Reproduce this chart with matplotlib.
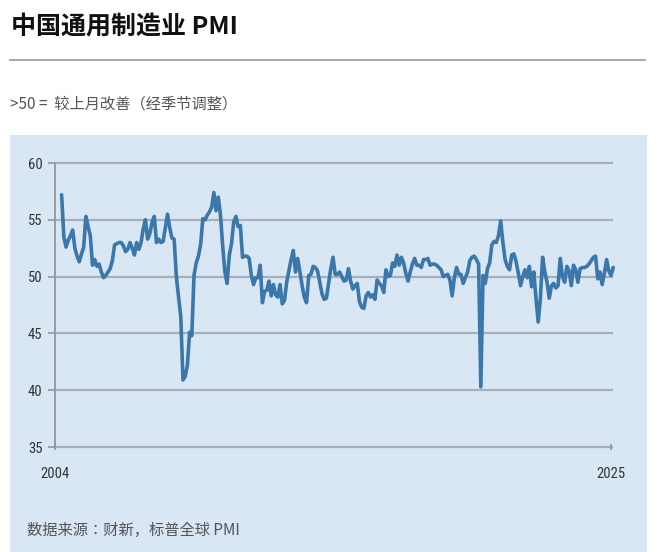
import matplotlib
matplotlib.use("Agg")
import matplotlib.pyplot as plt
from matplotlib import font_manager as fm
from matplotlib.patches import Rectangle
from matplotlib.lines import Line2D

# ---------------- data (monthly, seasonally adjusted) ----------------
start_year = 2004
start_month = 4
pmi_2004 = [57.2, 53.5, 52.6, 53.2, 53.6, 54.1, 52.5, 51.8, 51.3]
pmi_2005 = [52.0, 52.6, 55.3, 54.4, 53.6, 51.0, 51.5, 50.9, 51.1, 50.4, 49.9, 50.1]
pmi_2006 = [50.4, 50.7, 51.4, 52.8, 52.9, 53.0, 53.0, 52.7, 52.2, 52.4, 53.0, 52.5]
pmi_2007 = [51.9, 53.0, 52.4, 53.0, 54.2, 55.0, 53.3, 53.8, 54.8, 55.3, 53.0, 53.3]
pmi_2008 = [53.0, 53.1, 54.3, 55.5, 54.3, 53.4, 53.3, 50.0, 48.2, 46.5, 40.9, 41.2]
pmi_2009 = [42.2, 45.1, 44.8, 50.1, 51.2, 51.8, 52.8, 55.1, 55.0, 55.4, 55.7, 56.1]
pmi_2010 = [57.4, 55.8, 57.0, 55.4, 52.7, 50.4, 49.4, 51.9, 52.9, 54.8, 55.3, 54.4]
pmi_2011 = [54.5, 51.7, 51.8, 51.8, 51.6, 50.1, 49.3, 49.9, 49.9, 51.0, 47.7, 48.7]
pmi_2012 = [48.8, 49.6, 48.3, 49.3, 48.4, 48.2, 49.3, 47.6, 47.9, 49.5, 50.5, 51.5]
pmi_2013 = [52.3, 50.4, 51.6, 50.4, 49.2, 48.2, 47.7, 50.1, 50.2, 50.9, 50.8, 50.5]
pmi_2014 = [49.5, 48.5, 48.0, 48.1, 49.4, 50.7, 51.7, 50.2, 50.2, 50.4, 50.0, 49.6]
pmi_2015 = [49.7, 50.7, 49.6, 48.9, 49.2, 49.4, 47.8, 47.3, 47.2, 48.3, 48.6, 48.2]
pmi_2016 = [48.4, 48.0, 49.7, 49.4, 49.2, 48.6, 50.6, 50.0, 50.1, 51.2, 50.9, 51.9]
pmi_2017 = [51.0, 51.7, 51.2, 50.3, 49.6, 50.4, 51.1, 51.6, 51.0, 51.0, 50.8, 51.5]
pmi_2018 = [51.5, 51.6, 51.0, 51.1, 51.1, 51.0, 50.8, 50.6, 50.0, 50.1, 50.2, 49.7]
pmi_2019 = [48.3, 49.9, 50.8, 50.2, 50.2, 49.4, 49.9, 50.4, 51.4, 51.7, 51.8, 51.5]
pmi_2020 = [51.1, 40.3, 50.1, 49.4, 50.7, 51.2, 52.8, 53.1, 53.0, 53.6, 54.9, 53.0]
pmi_2021 = [51.5, 50.9, 50.6, 51.9, 52.0, 51.3, 50.3, 49.2, 50.0, 50.6, 49.9, 50.9]
pmi_2022 = [49.1, 50.4, 48.1, 46.0, 48.1, 51.7, 50.4, 49.5, 48.1, 49.2, 49.4, 49.0]
pmi_2023 = [49.2, 51.6, 50.0, 49.5, 50.9, 50.5, 49.2, 51.0, 50.6, 49.5, 50.7, 50.8]
pmi_2024 = [50.8, 50.9, 51.1, 51.4, 51.7, 51.8, 49.8, 50.4, 49.3, 50.3, 51.5, 50.5]
pmi_2025 = [50.1, 50.8]

y_ticks = [35, 40, 45, 50, 55, 60]
x_tick_labels = ["2004", "2025"]
x_tick_years = [2004, 2025]

title = "中国通用制造业 PMI"
subtitle = ">50 =  较上月改善（经季节调整）"
source = "数据来源：财新，标普全球 PMI"

# ---------------- assemble ----------------
values = (pmi_2004 + pmi_2005 + pmi_2006 + pmi_2007 + pmi_2008 + pmi_2009 +
          pmi_2010 + pmi_2011 + pmi_2012 + pmi_2013 + pmi_2014 + pmi_2015 +
          pmi_2016 + pmi_2017 + pmi_2018 + pmi_2019 + pmi_2020 + pmi_2021 +
          pmi_2022 + pmi_2023 + pmi_2024 + pmi_2025)
dates = [start_year + (start_month - 1 + i) / 12.0 for i in range(len(values))]

# ---------------- fonts ----------------
available = {f.name for f in fm.fontManager.ttflist}
def pick(*names):
    for n in names:
        if n in available:
            return n
    return "DejaVu Sans"
cjk = pick("Noto Sans CJK SC", "Noto Sans CJK JP")
num = pick("Liberation Sans Narrow", "Roboto Condensed", "Noto Sans", "DejaVu Sans")
plt.rcParams["font.family"] = [cjk, "DejaVu Sans"]

W, H = 672, 552
fig = plt.figure(figsize=(W / 100, H / 100), dpi=100)
fig.patch.set_facecolor("white")

def fx(px):
    return px / W
def fy(py):
    return 1 - py / H

# title
fig.text(fx(11), fy(27), title, fontsize=18, fontweight="bold",
         color="#111111", va="center", ha="left", family=[cjk, "DejaVu Sans"])
# rule line
fig.add_artist(Line2D([fx(10), fx(645)], [fy(60), fy(60)], color="#9a9a9a",
                      lw=1.2, transform=fig.transFigure))
# subtitle
fig.text(fx(10), fy(104), subtitle, fontsize=11, color="#555555",
         va="center", ha="left", family=[cjk, "DejaVu Sans"])
# panel background
fig.add_artist(Rectangle((fx(10), 0), fx(647) - fx(10), fy(135), transform=fig.transFigure,
                         facecolor="#d9e6f4", edgecolor="none", zorder=0))
# source
fig.text(fx(27), fy(530), source, fontsize=11, color="#555555",
         va="center", ha="left", family=[cjk, "DejaVu Sans"])

# ---------------- axes ----------------
ax_l, ax_r, ax_t, ax_b = 55, 611, 163, 447
ax = fig.add_axes([fx(ax_l), fy(ax_b), fx(ax_r) - fx(ax_l), fy(ax_t) - fy(ax_b)])
ax.set_facecolor("none")
ax.set_xlim(2004, 2025)
ax.set_ylim(35, 60)

for yv in y_ticks:
    ax.axhline(yv, color="#a7b0b9", lw=1.6, zorder=1, xmax=1.002, clip_on=False)

ax.plot(dates, values, color="#3a77ab", lw=2.6, solid_joinstyle="round",
        solid_capstyle="round", zorder=3, clip_on=False)

for s in ["top", "right", "bottom"]:
    ax.spines[s].set_visible(False)
ax.spines["left"].set_color("#8e979f")
ax.spines["left"].set_linewidth(1.3)

ax.set_yticks(y_ticks)
ax.set_yticklabels([str(v) for v in y_ticks], fontsize=10.5, color="#333333",
                   family=num)
ax.tick_params(axis="y", length=5, width=1.2, color="#8e979f", pad=4)

ax.set_xticks(x_tick_years)
ax.set_xticklabels(x_tick_labels, fontsize=10.5, color="#333333", family=num)
ax.tick_params(axis="x", length=5, width=1.2, color="#8e979f", pad=12,
               direction="inout")

fig.savefig("out.png", dpi=100, facecolor="white")
